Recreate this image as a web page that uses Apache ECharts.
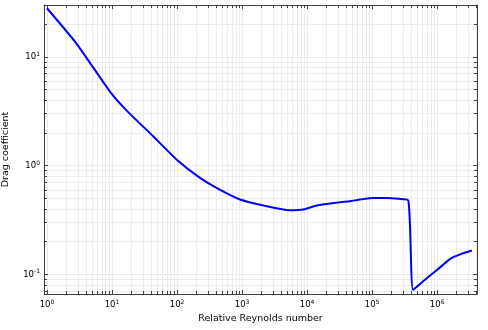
<!DOCTYPE html>
<html>
<head>
<meta charset="utf-8">
<script src="https://cdn.jsdelivr.net/npm/echarts@6/dist/echarts.min.js"></script>
<style>
  html, body { margin: 0; padding: 0; background: #fff; }
  #chart { width: 488px; height: 330px; }
</style>
</head>
<body>
<div id="chart"></div>
<script>
var reynolds = [1, 2.86, 9.3, 16.4, 43, 99, 226, 432, 931, 2400, 5470, 8670, 14100, 32200, 45900, 65300, 105000, 168000, 254000, 361000, 427000, 615000, 990000, 1590000, 2400000, 3420000];
var drag = [28, 13.2, 4.8, 3.26, 1.86, 1.135, 0.771, 0.611, 0.488, 0.423, 0.389, 0.395, 0.43, 0.46, 0.47, 0.488, 0.505, 0.505, 0.495, 0.477, 0.072, 0.0868, 0.1095, 0.139, 0.155, 0.166];

var xRange = [0.9, 4.1e6];
var yRange = [0.066, 30];

var axisColor = '#404040';
var gridColor = '#ebebeb';
var fontName = 'DejaVu Sans';

var points = [];
for (var i = 0; i < reynolds.length; i++) {
    points.push([reynolds[i], drag[i]]);
}

//只显示10的整数次幂
function powLabel(v) {
    var e = Math.round(Math.log10(v));
    if (Math.abs(v - Math.pow(10, e)) > 1e-6 * v) return '';
    return '{b|10}{s|' + e + '}';
}

var labelRich = {
    b: { fontSize: 8.5, fontFamily: fontName, color: '#000', lineHeight: 11 },
    s: { fontSize: 6, fontFamily: fontName, color: '#000', verticalAlign: 'top', lineHeight: 7 }
};

function logAxis(opts) {
    var ax = {
        type: 'log',
        logBase: 10,
        axisLine: { show: true, lineStyle: { color: axisColor, width: 1 } },
        axisTick: { show: true, inside: true, length: 4, lineStyle: { color: axisColor } },
        minorTick: { show: true, splitNumber: 9, length: 3, lineStyle: { color: axisColor } },
        splitLine: { show: false },
        minorSplitLine: { show: false },
        axisLabel: { show: false }
    };
    for (var k in opts) ax[k] = opts[k];
    return ax;
}

var chart = echarts.init(document.getElementById('chart'), null, { renderer: 'canvas' });

var option = {
    animation: false,
    backgroundColor: '#fff',
    grid: { left: 44, right: 11, top: 5, bottom: 36, containLabel: false, outerBoundsMode: 'none' },
    xAxis: [
        logAxis({
            min: xRange[0], max: xRange[1],
            position: 'bottom',
            name: 'Relative Reynolds number',
            nameLocation: 'middle',
            nameGap: 14,
            nameTextStyle: { fontSize: 9.5, fontFamily: fontName, color: '#000' },
            splitLine: { show: true, lineStyle: { color: gridColor, width: 1 } },
            minorSplitLine: { show: true, lineStyle: { color: gridColor, width: 1 } },
            axisLabel: { show: true, margin: 5, showMinLabel: false, showMaxLabel: false, formatter: powLabel, rich: labelRich }
        }),
        logAxis({ min: xRange[0], max: xRange[1], position: 'top' })
    ],
    yAxis: [
        logAxis({
            min: yRange[0], max: yRange[1],
            position: 'left',
            name: 'Drag coefficient',
            nameLocation: 'middle',
            nameGap: 33,
            nameTextStyle: { fontSize: 9.5, fontFamily: fontName, color: '#000' },
            splitLine: { show: true, lineStyle: { color: gridColor, width: 1 } },
            minorSplitLine: { show: true, lineStyle: { color: gridColor, width: 1 } },
            axisLabel: { show: true, margin: 4, showMinLabel: false, showMaxLabel: false, formatter: powLabel, rich: labelRich }
        }),
        logAxis({ min: yRange[0], max: yRange[1], position: 'right' })
    ],
    series: [
        {
            type: 'line',
            xAxisIndex: 0,
            yAxisIndex: 0,
            data: points,
            showSymbol: false,
            smooth: 0.2,
            lineStyle: { color: '#0000ff', width: 2 }
        }
    ]
};

chart.setOption(option);
</script>
</body>
</html>
